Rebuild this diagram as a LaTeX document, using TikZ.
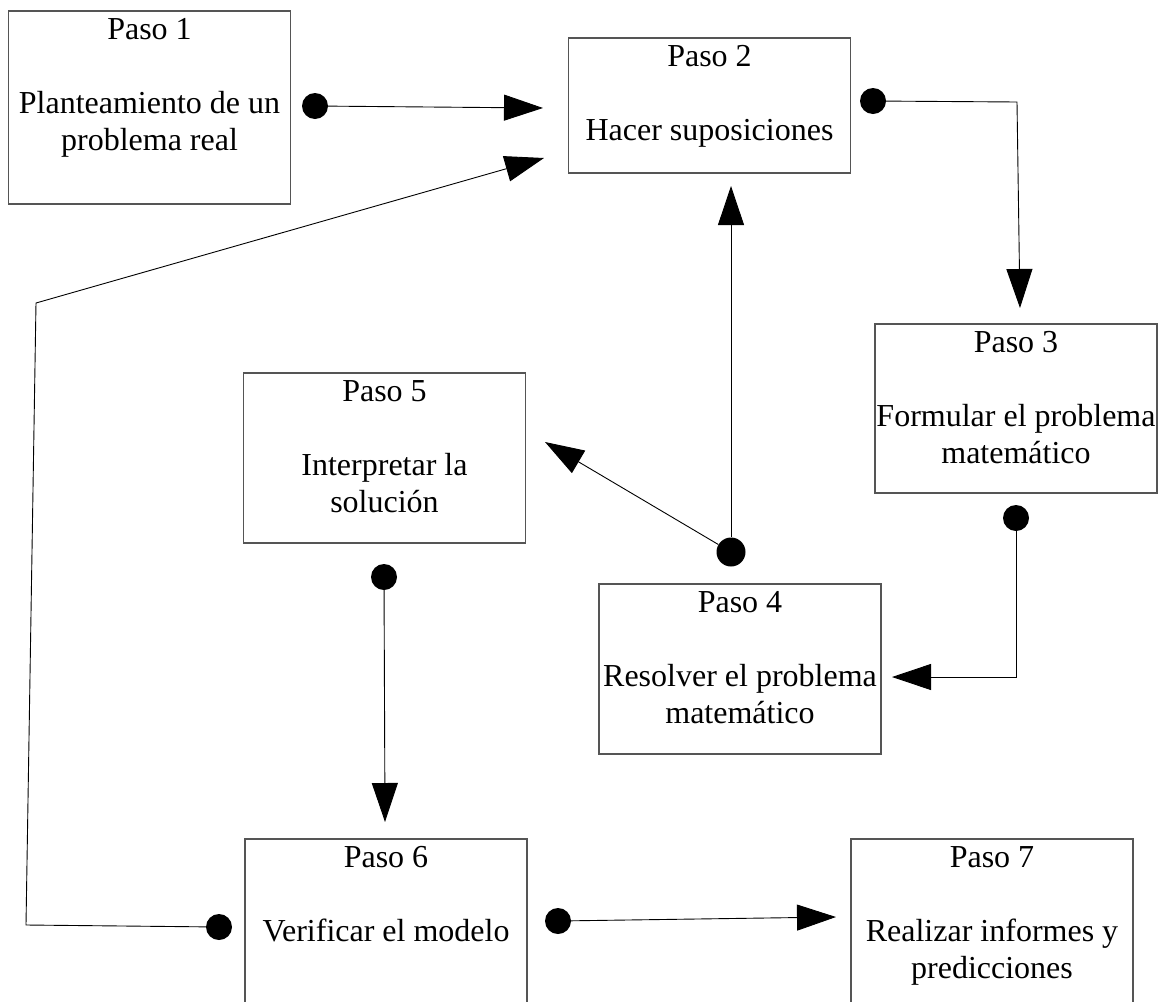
\documentclass[tikz,border=0pt]{standalone}
\usepackage{fontspec}
\setmainfont{Liberation Serif}
\usetikzlibrary{arrows.meta}
\definecolor{bordecolor}{HTML}{555555}
\tikzset{
  pasobox/.style={draw=bordecolor, line width=1.2pt, rectangle, minimum width=282pt},
  pasotext/.style={anchor=north, align=center, inner xsep=0pt, inner ysep=7.5pt, font=\fontsize{32pt}{37pt}\selectfont},
  punto/.style={circle, fill=black, inner sep=0pt, minimum size=26pt},
  flecha/.style={line width=0.9pt, -{Triangle[length=39pt, width=26pt]}}
}

\begin{document}
\begin{tikzpicture}[x=1pt, y=-1pt]%
\useasboundingbox (0,0) rectangle (1163,1002);%
\clip (0,0) rectangle (1163,1002);%
% cajas de los pasos
\node[pasobox, minimum height=193pt] (p1) at (149.5,107.5) {};%
\node[pasobox, minimum height=135pt] (p2) at (709.5,105.5) {};%
\node[pasobox, minimum height=169pt] (p3) at (1016,408.5) {};%
\node[pasobox, minimum height=170pt] (p4) at (740,669) {};%
\node[pasobox, minimum height=170pt] (p5) at (384.5,458) {};%
\node[pasobox, minimum height=170pt] (p6) at (386,924) {};%
\node[pasobox, minimum height=170pt] (p7) at (992,924) {};%
\node[pasotext] (p1t) at (p1.north) {Paso 1\\[37pt]Planteamiento de un\\problema real};%
\node[pasotext] (p2t) at (p2.north) {Paso 2\\[37pt]Hacer suposiciones};%
\node[pasotext] (p3t) at (p3.north) {Paso 3\\[37pt]Formular el problema\\matemático};%
\node[pasotext] (p4t) at (p4.north) {Paso 4\\[37pt]Resolver el problema\\matemático};%
\node[pasotext] (p5t) at (p5.north) {Paso 5\\[37pt]Interpretar la\\solución};%
\node[pasotext] (p6t) at (p6.north) {Paso 6\\[37pt]Verificar el modelo};%
\node[pasotext] (p7t) at (p7.north) {Paso 7\\[37pt]Realizar informes y\\predicciones};%
% puntos de salida
\node[punto] (d1) at (315,106) {};%
\node[punto] (d2) at (873,101) {};%
\node[punto] (d3) at (1016,518) {};%
\node[punto, minimum size=29pt] (d4) at (731,552) {};%
\node[punto] (d5) at (384,577) {};%
\node[punto] (d6) at (219,927) {};%
\node[punto] (d7) at (558,921) {};%
% puntas y esquinas
\coordinate (t1) at (543,108);%
\coordinate (t2) at (544,158);%
\coordinate (t3) at (1020,308);%
\coordinate (t4) at (892,677);%
\coordinate (t5) at (731,186);%
\coordinate (t6) at (545,442);%
\coordinate (t7) at (385,822);%
\coordinate (t8) at (836,917);%
\coordinate (k1) at (26,925);%
\coordinate (k2) at (36,303);%
\coordinate (k3) at (1017,102);%
% flechas
\draw[flecha] (d1) -- (t1);%
\draw[flecha] (d2) -- (k3) -- (t3);%
\draw[flecha] (d3) |- (t4);%
\draw[flecha] (d4) -- (t5);%
\draw[flecha] (d4) -- (t6);%
\draw[flecha] (d5) -- (t7);%
\draw[flecha] (d6) -- (k1) -- (k2) -- (t2);%
\draw[flecha] (d7) -- (t8);%
\end{tikzpicture}
\end{document}
